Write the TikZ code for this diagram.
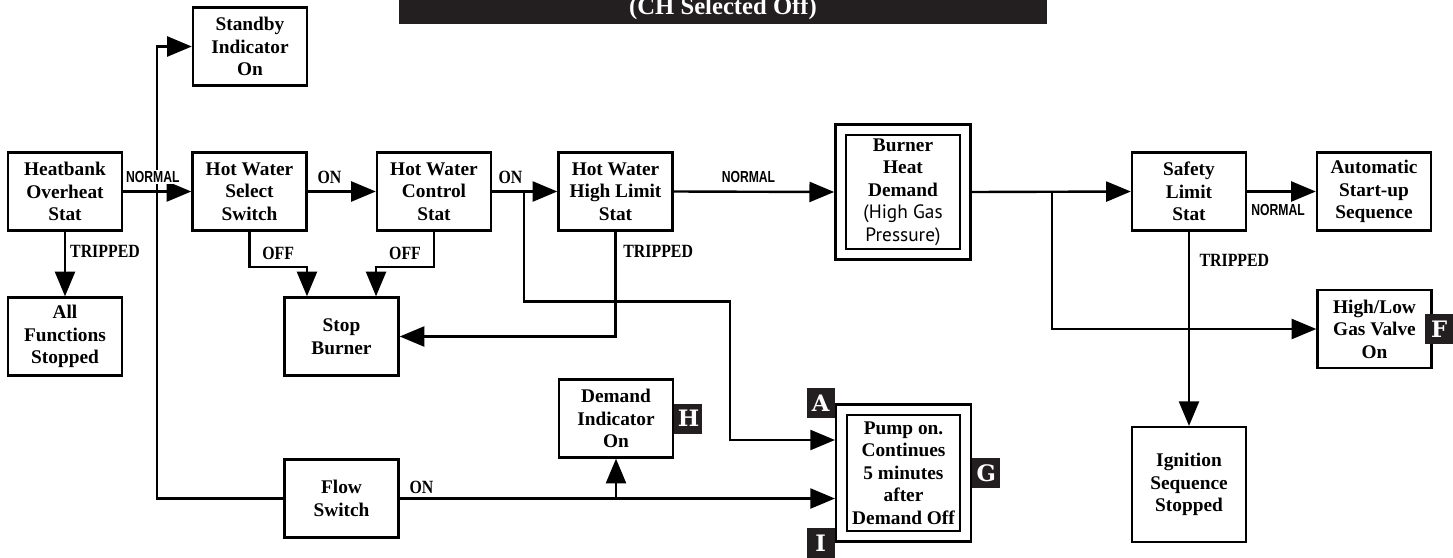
\documentclass[tikz,border=0pt]{standalone}
\usepackage{fontspec}
\setmainfont{Liberation Serif}
\newfontfamily\condfont[FakeStretch=0.76]{Liberation Sans}
\newfontfamily\lblfont[FakeStretch=0.85]{Liberation Serif}
\newfontfamily\notefont{PT Sans}
\newfontfamily\tagfont{DejaVu Serif}
\usetikzlibrary{arrows.meta,calc}

\begin{document}
\begin{tikzpicture}[x=0.75pt, y=-0.75pt, >={Triangle[length=18.5pt, width=15pt]},
  font=\fontsize{14.5pt}{16.9pt}\selectfont\bfseries,
  box/.style={draw, line width=1.8pt, align=center, inner sep=2pt, minimum width=85.5pt, minimum height=58.5pt},
  dbox/.style={box, double, double distance=6.2pt, outer sep=4.9pt},
  flow/.style={->, line width=1.8pt},
  wire/.style={line width=1.8pt},
  lbl/.style={font=\fontsize{14pt}{16pt}\selectfont\lblfont\bfseries, inner sep=1pt},
  cond/.style={font=\fontsize{12pt}{14pt}\selectfont\condfont\bfseries, inner sep=1pt},
  tag/.style={fill=tagbg, text=white, font=\fontsize{17pt}{17pt}\selectfont\tagfont\bfseries, minimum width=21pt, minimum height=22.5pt, inner sep=0pt}]
\definecolor{tagbg}{RGB}{35,31,32}
\useasboundingbox (0,0) rectangle (1453,557);
% title bar, cut by the top edge
\begin{scope}
\clip (0,0) rectangle (1453,557);
\fill[tagbg] (399,-30) rectangle (1047,24);
\node[text=white, anchor=base, font=\fontsize{18.5pt}{18.5pt}\selectfont\bfseries] (title) at (723,14) {(CH Selected Off)};
\end{scope}
% ---- left column
\node[box] (heat) at (65,191.5) {Heatbank\\Overheat\\Stat};
\node[box] (allf) at (65,336.5) {All\\Functions\\Stopped};
\node[box] (stby) at (250,46.5) {Standby\\Indicator\\On};
\node[box] (hwsel) at (249.5,191.5) {Hot Water\\Select\\Switch};
\node[box] (hwctl) at (434,191.5) {Hot Water\\Control\\Stat};
\node[box] (stop) at (341.5,336.5) {Stop\\Burner};
\node[box] (flow) at (341.5,498.5) {Flow\\Switch};
\node[box] (hwhi) at (615.5,191.5) {Hot Water\\High Limit\\Stat};
\node[box] (dmnd) at (616,418.5) {Demand\\Indicator\\On};
% ---- double boxes
\node[dbox, minimum width=93.5pt, minimum height=93.5pt] (burner) at (903,192) {Burner\\Heat\\Demand\\{\notefont\mdseries (High Gas}\\{\notefont\mdseries Pressure)}};
\node[dbox, minimum width=93pt, minimum height=95pt] (pump) at (903.5,473) {Pump on.\\Continues\\5 minutes\\after\\Demand Off};
% ---- right column
\node[box] (safety) at (1189,191.5) {Safety\\Limit\\Stat};
\node[box] (auto) at (1374,191.5) {Automatic\\Start-up\\Sequence};
\node[box] (hilo) at (1374.5,329) {High/Low\\Gas Valve\\On};
\node[box, minimum height=86pt] (ign) at (1189,484.5) {Ignition\\Sequence\\Stopped};
% junctions
\coordinate (j1) at (157,191.5);
\coordinate (j2) at (524,191.5);
\coordinate (j3) at (1052,191.5);
% ---- connectors
\draw[flow] (j1) |- (stby.west);
\draw[wire] (j1) |- (flow.west);
\draw[flow] (heat.east) -- node[cond, pos=0.435, above=5pt, fill=white] {NORMAL} (hwsel.west);
\draw[flow] (heat.south) -- node[lbl, pos=0.31, right=2pt] {TRIPPED} (allf.north);
\draw[flow] (hwsel.east) -- node[lbl, pos=0.32, above=4pt] {ON} (hwctl.west);
\draw[flow] (hwctl.east) -- node[lbl, pos=0.28, above=4pt] {ON} (hwhi.west);
\draw[flow] (hwsel.south) -- ++(0,35) -| node[lbl, pos=0.25, above=3pt] {OFF} ([xshift=-25.9pt]stop.north);
\draw[flow] (hwctl.south) -- ++(0,35) -| node[lbl, pos=0.25, above=3pt] {OFF} ([xshift=25.9pt]stop.north);
\draw[flow] (hwhi.east) -- node[cond, pos=0.466, above=5pt] {NORMAL} (burner.west);
\draw[flow] (hwhi.south) |- node[lbl, pos=0.096, right=4pt] {TRIPPED} (stop.east);
\draw[flow] (j2) -- ++(0,110) -- ++(206,0) |- ([yshift=24.75pt]pump.west);
\draw[flow] (flow.east) -- node[lbl, pos=0.05, above=2pt] {ON} (flow.east -| pump.west);
\draw[flow] (flow.east -| dmnd.south) -- (dmnd.south);
\draw[flow] (burner.east) -- (safety.west);
\draw[flow] (j3) |- (hilo.west);
\draw[flow] (safety.east) -- node[cond, pos=0.45, below=8pt] {NORMAL} (auto.west);
\draw[flow] (safety.south) -- node[lbl, pos=0.149, right=6pt] {TRIPPED} (ign.north);
% ---- letter tags
\node[tag, anchor=west] (tagH) at (dmnd.east) {H};
\node[tag, anchor=east] (tagA) at (pump.north west) {A};
\node[tag, anchor=east] (tagI) at (pump.south west) {I};
\node[tag, anchor=west] (tagG) at (pump.east) {G};
\node[tag] (tagF) at ([xshift=4.9pt]hilo.east) {F};
\end{tikzpicture}
\end{document}
